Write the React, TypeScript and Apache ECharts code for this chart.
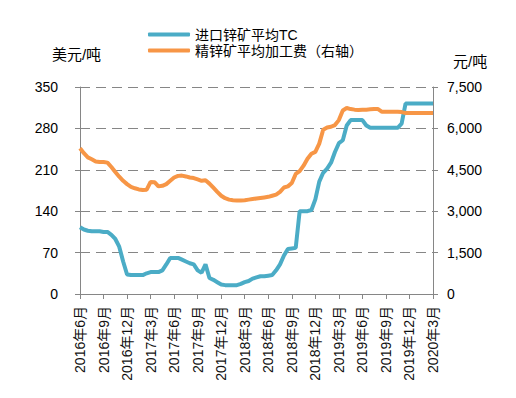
import React, { useEffect, useRef } from "react";
import * as echarts from "echarts";

// Half-month categories from 2016-06 to 2020-03 (labels shown every quarter)
const startYear = 2016;
const startMonth = 6;
const categories: string[] = [];
for (let i = 0; i <= 90; i++) {
  const m = startMonth - 1 + Math.floor(i / 2);
  const y = startYear + Math.floor(m / 12);
  const mm = (m % 12) + 1;
  categories.push(i % 2 === 0 ? `${y}年${mm}月` : `${y}年${mm}月下`);
}

const tcImport: number[] = [
  113, 109, 107, 106, 106, 106, 105, 105, 100, 93,
  80, 55, 33, 32, 32, 32, 32, 35, 37, 37,
  37, 40, 50, 61, 61, 61, 58, 55, 52, 50,
  40, 36, 50, 27, 24, 20, 16, 15, 15, 15,
  15, 17, 20, 22, 26, 28, 30, 30, 31, 32,
  40, 50, 65, 76, 77, 78, 140, 140, 140, 142,
  160, 190, 205, 212, 222, 240, 255, 260, 285, 294,
  294, 294, 294, 285, 281, 281, 281, 281, 281, 281,
  281, 281, 288, 322, 322, 322, 322, 322, 322, 322,
  322,
];

const processingFee: number[] = [
  5280, 5100, 4950, 4880, 4800, 4780, 4780, 4760, 4600, 4420,
  4250, 4100, 3980, 3880, 3830, 3790, 3770, 3780, 4060, 4050,
  3900, 3920, 3980, 4100, 4220, 4280, 4290, 4260, 4220, 4200,
  4150, 4100, 4120, 4000, 3850, 3700, 3560, 3470, 3420, 3400,
  3390, 3390, 3400, 3420, 3440, 3460, 3480, 3500, 3520, 3560,
  3600, 3700, 3860, 3900, 4020, 4350, 4450, 4650, 4900, 5080,
  5150, 5450, 5950, 6030, 6060, 6120, 6300, 6650, 6740, 6700,
  6680, 6670, 6680, 6680, 6690, 6700, 6700, 6600, 6600, 6600,
  6600, 6600, 6590, 6560, 6560, 6560, 6560, 6560, 6560, 6560,
  6560,
];

const seriesNames = ["进口锌矿平均TC", "精锌矿平均加工费（右轴）"];
const leftTicks = { min: 0, max: 350, interval: 70 };
const rightTicks = { min: 0, max: 7500, interval: 1500 };

const FONT = "'Liberation Sans', 'Noto Sans CJK SC', sans-serif";
const TEAL = "#4BACC6";
const ORANGE = "#F79646";
const GRAY = "#868686";

export default function App() {
  const ref = useRef<HTMLDivElement>(null);
  useEffect(() => {
    if (!ref.current) return;
    const chart = echarts.init(ref.current, undefined, { renderer: "svg" });
    chart.setOption({
      animation: false,
      backgroundColor: "#fff",
      textStyle: { fontFamily: FONT },
      legend: {
        orient: "vertical",
        left: 143,
        top: 22,
        itemGap: 1,
        itemWidth: 42,
        itemHeight: 4,
        icon: "roundRect",
        textStyle: { fontSize: 14, lineHeight: 15, color: "#000", fontFamily: FONT },
        data: seriesNames,
      },
      grid: { left: 80, right: 83, top: 87, bottom: 104 },
      xAxis: {
        type: "category",
        data: categories,
        boundaryGap: false,
        axisLine: { lineStyle: { color: GRAY, width: 1 } },
        axisTick: {
          alignWithLabel: true,
          interval: (i: number) => i % 6 === 0,
          length: 5,
          lineStyle: { color: GRAY },
        },
        axisLabel: {
          interval: (i: number) => i % 6 === 0,
          rotate: 90,
          fontSize: 14,
          color: "#111",
          margin: 12,
          fontFamily: FONT,
        },
      },
      yAxis: [
        {
          type: "value",
          ...leftTicks,
          name: "美元/吨",
          nameLocation: "end",
          nameGap: 25,
          nameTextStyle: { fontSize: 15, color: "#000", align: "center", padding: [0, 0, 0, -7] },
          axisLine: { show: true, lineStyle: { color: GRAY } },
          axisTick: { show: true, length: 5, lineStyle: { color: GRAY } },
          axisLabel: { fontSize: 14, color: "#000", margin: 22 },
          splitLine: { lineStyle: { color: GRAY, type: [10, 6], width: 1.2 } },
        },
        {
          type: "value",
          ...rightTicks,
          name: "元/吨",
          nameLocation: "end",
          nameGap: 18,
          nameTextStyle: { fontSize: 15, color: "#000", align: "left", padding: [0, 0, 0, 20] },
          axisLine: { show: true, lineStyle: { color: GRAY } },
          axisTick: { show: true, length: 5, lineStyle: { color: GRAY } },
          axisLabel: {
            fontSize: 14,
            color: "#000",
            margin: 14,
            formatter: (v: number) => v.toLocaleString("en-US"),
          },
          splitLine: { show: false },
        },
      ],
      series: [
        {
          name: seriesNames[0],
          type: "line",
          data: tcImport,
          yAxisIndex: 0,
          showSymbol: false,
          symbol: "none",
          lineStyle: { color: TEAL, width: 4 },
          itemStyle: { color: TEAL },
        },
        {
          name: seriesNames[1],
          type: "line",
          data: processingFee,
          yAxisIndex: 1,
          showSymbol: false,
          symbol: "none",
          lineStyle: { color: ORANGE, width: 4 },
          itemStyle: { color: ORANGE },
        },
      ],
    });
    return () => chart.dispose();
  }, []);
  return (
    <div
      ref={ref}
      style={{ position: "absolute", left: 0, top: 0, width: 516, height: 398 }}
    />
  );
}
